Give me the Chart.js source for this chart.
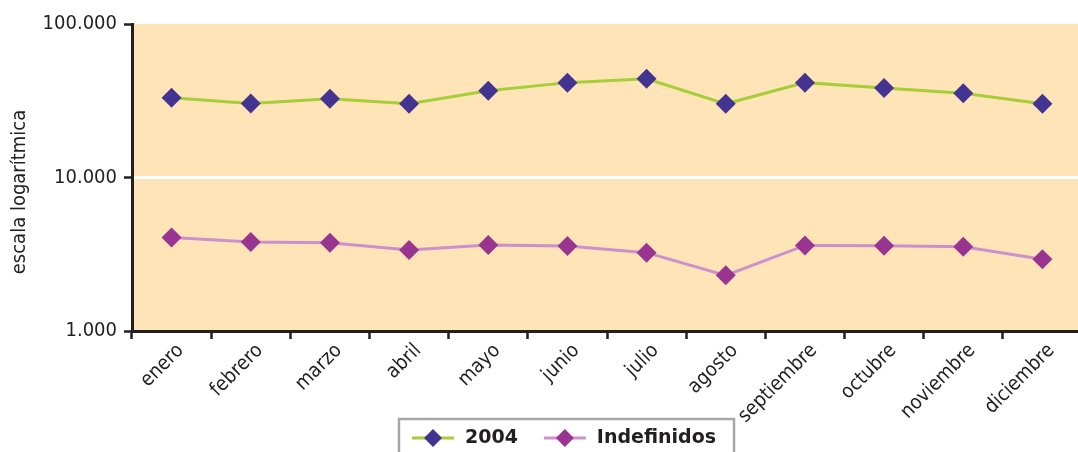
<!DOCTYPE html>
<html><head><meta charset="utf-8">
<script src="https://cdn.jsdelivr.net/npm/chart.js@4/dist/chart.umd.min.js"></script>
<style>
html,body{margin:0;padding:0;background:#fff;overflow:hidden;width:1078px;height:452px}
#wrap{position:relative;width:1092px;height:452px}
</style></head>
<body><div id="wrap"><canvas id="c" width="1092" height="452"></canvas></div>
<script>
const categories = ['enero','febrero','marzo','abril','mayo','junio','julio','agosto','septiembre','octubre','noviembre','diciembre'];
const serie2004 = [33100,30400,32600,30200,36700,41500,44000,30200,41500,38300,35400,30200];
const serieIndefinidos = [4070,3800,3760,3370,3630,3580,3240,2305,3610,3590,3540,2930];
const yTickValues = [1000,10000,100000];
const yTickLabels = ['1.000','10.000','100.000'];
const seriesNames = ['2004','Indefinidos'];
const axisTitle = 'escala logarítmica';

const FONT = '"DejaVu Sans Condensed", "DejaVu Sans", sans-serif';
const LEGEND_FONT = '"DejaVu Sans", sans-serif';
const DARK = '#231F20';

const bgPlugin = {
  id: 'plotBg',
  beforeDraw(chart) {
    const a = chart.chartArea, ctx = chart.ctx;
    ctx.save();
    ctx.fillStyle = '#FFE4B8';
    ctx.fillRect(a.left, a.top, a.right - a.left, a.bottom - a.top);
    ctx.restore();
  }
};

const titlePlugin = {
  id: 'yTitle',
  afterDraw(chart) {
    const ctx = chart.ctx;
    ctx.save();
    ctx.translate(20, 192);
    ctx.rotate(-Math.PI / 2);
    ctx.textAlign = 'center';
    ctx.textBaseline = 'middle';
    ctx.font = '20px ' + FONT;
    ctx.fillStyle = DARK;
    ctx.fillText(axisTitle, 0, 0);
    ctx.restore();
  }
};

const legendPlugin = {
  id: 'boxLegend',
  afterDraw(chart) {
    const ctx = chart.ctx;
    ctx.save();
    ctx.font = 'bold 19px ' + LEGEND_FONT;
    const lineLen = 42, gapText = 11, gapItem = 26;
    const items = chart.data.datasets.map(ds => ({
      ds, w: lineLen + gapText + ctx.measureText(ds.label).width
    }));
    const total = items.reduce((s, it) => s + it.w, 0) + gapItem * (items.length - 1);
    const cx = 566, cy = 438;
    let x = cx - total / 2 - 2;
    ctx.strokeStyle = '#A6A6A6';
    ctx.lineWidth = 2.5;
    ctx.strokeRect(x - 13, 419, total + 31, 50);
    items.forEach(it => {
      ctx.strokeStyle = it.ds.borderColor;
      ctx.lineWidth = 3;
      ctx.beginPath();
      ctx.moveTo(x, cy); ctx.lineTo(x + lineLen, cy);
      ctx.stroke();
      const mx = x + lineLen / 2, r = 9;
      ctx.fillStyle = it.ds.pointBackgroundColor;
      ctx.beginPath();
      ctx.moveTo(mx - r, cy); ctx.lineTo(mx, cy - r); ctx.lineTo(mx + r, cy); ctx.lineTo(mx, cy + r);
      ctx.closePath(); ctx.fill();
      ctx.fillStyle = DARK;
      ctx.textBaseline = 'middle';
      ctx.textAlign = 'left';
      ctx.fillText(it.ds.label, x + lineLen + gapText, cy);
      x += it.w + gapItem;
    });
    ctx.restore();
  }
};

new Chart(document.getElementById('c'), {
  type: 'line',
  data: {
    labels: categories,
    datasets: [
      {
        label: seriesNames[0], data: serie2004,
        borderColor: '#A6CE39', borderWidth: 3,
        pointStyle: 'rectRot', pointRadius: 10, pointHoverRadius: 10,
        pointBackgroundColor: '#443491', pointBorderColor: '#443491', pointBorderWidth: 0,
        tension: 0
      },
      {
        label: seriesNames[1], data: serieIndefinidos,
        borderColor: '#CC90CC', borderWidth: 3,
        pointStyle: 'rectRot', pointRadius: 10, pointHoverRadius: 10,
        pointBackgroundColor: '#993591', pointBorderColor: '#993591', pointBorderWidth: 0,
        tension: 0
      }
    ]
  },
  options: {
    responsive: false,
    animation: false,
    devicePixelRatio: 1,
    layout: { padding: { left: 0, right: 4, top: 24, bottom: 0 } },
    plugins: { legend: { display: false }, tooltip: { enabled: false } },
    scales: {
      x: {
        type: 'category',
        offset: true,
        grid: { drawOnChartArea: false, offset: true, drawTicks: true, tickLength: 8, tickColor: DARK, tickWidth: 2.5, color: DARK },
        border: { display: true, color: DARK, width: 3 },
        ticks: {
          autoSkip: false, maxRotation: 45, minRotation: 45, padding: 0, labelOffset: 9,
          color: DARK, font: { family: FONT, size: 20 }
        },
        afterFit(s) { s.height = 121; }
      },
      y: {
        type: 'logarithmic',
        min: 1000, max: 100000,
        afterBuildTicks(s) { s.ticks = yTickValues.map(v => ({ value: v })); },
        grid: {
          color: c => (c.tick && c.tick.value === 10000) ? '#FFFFFF' : 'rgba(0,0,0,0)',
          lineWidth: 3, tickLength: 8, tickColor: DARK, tickWidth: 2.5
        },
        border: { display: true, color: DARK, width: 3 },
        ticks: {
          padding: 7, color: DARK, font: { family: FONT, size: 20 },
          callback: v => { const i = yTickValues.indexOf(v); return i >= 0 ? yTickLabels[i] : ''; }
        },
        afterFit(s) { s.width = 132; }
      }
    }
  },
  plugins: [bgPlugin, titlePlugin, legendPlugin]
});
</script>
</body></html>
